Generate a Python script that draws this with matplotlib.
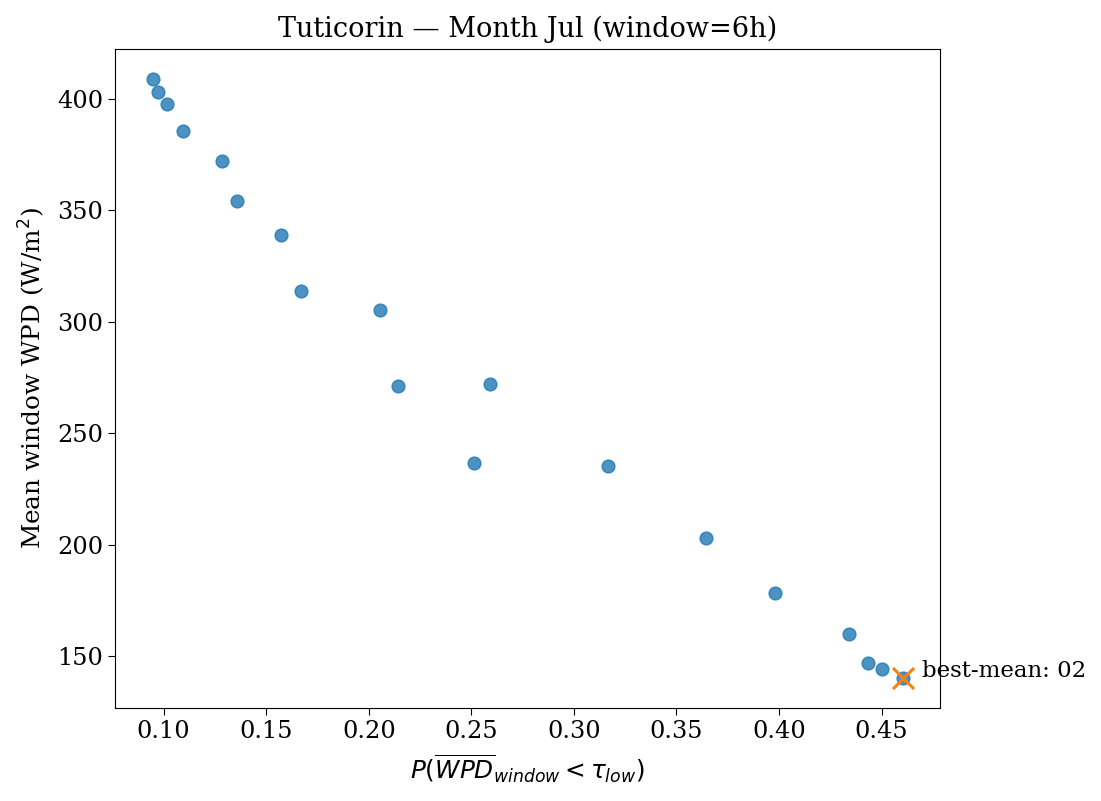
import matplotlib
matplotlib.use("Agg")
import matplotlib.pyplot as plt

plt.rcParams['font.family'] = ['DejaVu Serif']

p_low = [0.0946, 0.0971, 0.1015, 0.1093, 0.1283, 0.1356, 0.1571, 0.1669, 0.2054,
         0.2142, 0.2591, 0.2513, 0.3167, 0.3646, 0.3978, 0.4339, 0.4432, 0.4500, 0.4602]
mean_wpd = [409.0, 403.1, 397.8, 385.7, 372.2, 354.3, 339.1, 314.0, 305.5,
            271.4, 271.9, 236.5, 235.1, 202.9, 178.2, 159.9, 146.9, 144.2, 140.1]
best_label = "best-mean: 02"
best_x = 0.4602
best_y = 140.1

fig = plt.figure(figsize=(11.01, 8.01), dpi=100)
ax = fig.add_subplot(111)
fig.subplots_adjust(left=0.1045, right=0.8538, top=0.9388, bottom=0.1161)

ax.scatter(p_low, mean_wpd, s=85, alpha=0.8, color='#1f77b4')
ax.scatter([best_x], [best_y], marker='x', s=230, linewidths=2.2, color='#ff7f0e')
ax.annotate(best_label, (best_x, best_y), xytext=(14, 5), textcoords='offset points',
            va='center', fontsize=16.5)

ax.set_title("Tuticorin — Month Jul (window=6h)", fontsize=19.5, pad=9)
ax.set_xlabel(r"$P(\overline{WPD}_{window} < \tau_{low})$", fontsize=17.8, labelpad=7)
ax.set_ylabel(r"Mean window WPD (W/m$^2$)", fontsize=17.8, labelpad=7)
ax.tick_params(labelsize=17.3, length=5)

fig.savefig("out.png", dpi=100)
